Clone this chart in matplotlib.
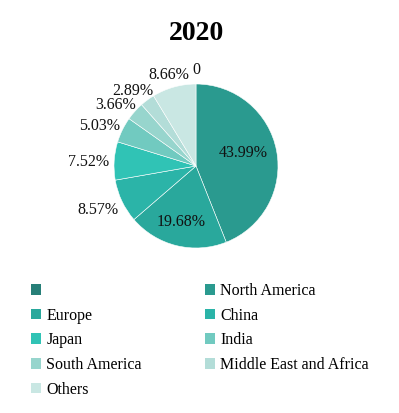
import matplotlib.pyplot as plt
from matplotlib.patches import Patch
import numpy as np

# data
regions = ['', 'North America', 'Europe', 'China', 'Japan', 'India',
           'South America', 'Middle East and Africa', 'Others']
shares = [0, 43.99, 19.68, 8.57, 7.52, 5.03, 3.66, 2.89, 8.66]
pct_labels = ['0', '43.99%', '19.68%', '8.57%', '7.52%', '5.03%',
              '3.66%', '2.89%', '8.66%']

# styling
colors = ['#277f78', '#2a9a8f', '#29a89c', '#2bb4a8', '#30c3b5',
          '#71cac0', '#97d5cd', '#b3ddd8', '#c9e7e3']
inside = [False, True, True, False, False, False, False, False, False]
# label layout: shift of the label angle (deg) and its distance (radius units)
lab_shift = [0, 7.2, -1.7, 3.2, -0.4, -2.8, -4.6, -7.2, -11.3]
lab_dist = [1.195, 0.605, 0.68, 1.07, 1.063, 1.06, 1.06, 1.075, 1.137]

plt.rcParams['font.family'] = ['Liberation Serif', 'DejaVu Serif']

fig = plt.figure(figsize=(3.99, 4.13), dpi=100)
ax = fig.add_axes([114 / 399, 1 - 248 / 413, 164 / 399, 164 / 413])

wedges, _ = ax.pie(shares, colors=colors, startangle=90, counterclock=False,
                   radius=1, wedgeprops=dict(edgecolor='white', linewidth=0.4))
ax.set_xlim(-1, 1)
ax.set_ylim(-1, 1)
ax.set_aspect('equal')
ax.axis('off')

# percentage labels
for w, lab, ins, dd, r in zip(wedges, pct_labels, inside, lab_shift, lab_dist):
    ang = np.deg2rad((w.theta1 + w.theta2) / 2 + dd)
    x, y = r * np.cos(ang), r * np.sin(ang)
    if ins:
        ha = 'center'
    elif lab == '0':
        x, ha = -0.04, 'left'
    else:
        ha = 'left' if x >= 0 else 'right'
    ax.text(x, y, lab, ha=ha, va='center_baseline', fontsize=11.5,
            color='#111111')

fig.text(196 / 399, 1 - 34 / 413, '2020', ha='center', va='center',
         fontsize=20, fontweight='bold')

# legend, row-major order in two columns
order = [0, 2, 4, 6, 8, 1, 3, 5, 7]
handles = [Patch(facecolor=colors[i], edgecolor='none') for i in order]
labels = [regions[i] for i in order]
fig.legend(handles, labels, ncol=2, loc='upper left',
           bbox_to_anchor=(30.5 / 399, 1 - 283 / 413), frameon=False,
           borderpad=0, borderaxespad=0,
           fontsize=11.5, handlelength=0.64, handleheight=0.64,
           handletextpad=0.34, columnspacing=3.95, labelspacing=0.54)

fig.savefig('out.png', dpi=100)
